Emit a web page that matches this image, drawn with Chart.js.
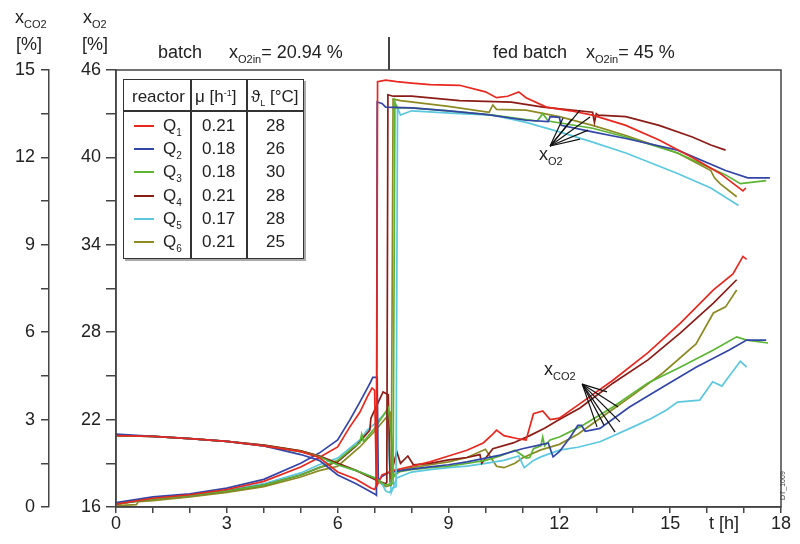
<!DOCTYPE html>
<html>
<head>
<meta charset="utf-8">
<script src="https://cdn.jsdelivr.net/npm/chart.js@4.4.1/dist/chart.umd.min.js"></script>
<style>
  body { margin: 0; background: #fff; }
  #wrap { position: relative; width: 800px; height: 544px; font-family: "Liberation Sans", Arial, sans-serif; color: #222; }
  #chart { position: absolute; left: 0; top: 0; }
  .lbl { position: absolute; font-size: 18px; line-height: 1; white-space: nowrap; }
  .lbl sub { font-size: 11px; vertical-align: -5px; line-height: 0; }
  #sep { position: absolute; left: 388px; top: 37px; width: 1.5px; height: 33px; background: #444; }
  #legend { position: absolute; left: 123px; top: 79px; width: 181px; height: 180px; border: 1.5px solid #333; box-sizing: border-box; box-shadow: 2px 2px 0 #aaa; background: #fff; }
  #legend .cell { position: absolute; font-size: 17px; line-height: 1; white-space: nowrap; }
  #legend .vl { position: absolute; top: 0; bottom: 0; width: 1.5px; background: #333; }
  #legend .hl { position: absolute; left: 0; right: 0; height: 1.5px; background: #333; top: 30px; }
  #legend .sw { position: absolute; height: 2px; width: 20px; }
  #dt { position: absolute; left: 779px; top: 500px; font-size: 7px; color: #444; transform: rotate(-90deg); transform-origin: left top; }
</style>
</head>
<body>
<div id="wrap">
  <canvas id="chart" width="800" height="544"></canvas>
  <div class="lbl" style="left:15px; top:8px;">x<sub>CO2</sub></div>
  <div class="lbl" style="left:16px; top:35px;">[%]</div>
  <div class="lbl" style="left:83px; top:8px;">x<sub>O2</sub></div>
  <div class="lbl" style="left:82px; top:35px;">[%]</div>
  <div class="lbl" style="left:158px; top:43px;">batch</div>
  <div class="lbl" style="left:229px; top:43px;">x<sub>O2in</sub>= 20.94 %</div>
  <div class="lbl" style="left:493px; top:43px;">fed batch</div>
  <div class="lbl" style="left:586px; top:43px;">x<sub>O2in</sub>= 45 %</div>
  <div id="sep"></div>
  <div class="lbl" style="left:709px; top:514px;">t [h]</div>
  <div class="lbl" style="left:539px; top:145px;">x<sub>O2</sub></div>
  <div class="lbl" style="left:544px; top:360px;">x<sub>CO2</sub></div>
  <div id="dt">DT_1009</div>
  <div id="legend"></div>
</div>
<script>
// reactor table
const reactors = ['1', '2', '3', '4', '5', '6'];
const muValues = ['0.21', '0.18', '0.18', '0.21', '0.17', '0.21'];
const tempValues = ['28', '26', '30', '28', '28', '25'];
const colors = ['#e8281e', '#3346a8', '#5ab532', '#8b1c16', '#5cc8e0', '#8c8a22'];

// x_O2 [%] over t [h]
const q1O2t = [0, 1, 2, 3, 4, 5, 5.5, 6, 6.5, 6.9, 7.0, 7.05, 7.08, 7.3, 7.6, 8.0, 8.5, 9.3, 10.0, 10.3, 10.6, 10.9, 11.1, 11.65, 12.3, 12.9, 13.8, 14.7, 15.6, 16.35, 16.97, 17.05];
const q1O2 = [20.9, 20.85, 20.7, 20.5, 20.2, 19.8, 19.4, 18.4, 17.9, 17.3, 17.2, 17.5, 45.2, 45.3, 45.2, 45.1, 45.0, 44.95, 44.5, 44.1, 44.2, 44.5, 44.1, 43.45, 43.2, 42.9, 42.2, 41.2, 40.0, 38.9, 37.7, 37.9];
const q2O2t = [0, 1, 2, 3, 4, 5, 5.5, 6, 6.5, 7.0, 7.05, 7.07, 7.2, 7.3, 8.0, 9.0, 10.0, 11.1, 11.7, 11.75, 12.0, 12.05, 12.9, 13.8, 15.2, 16.5, 17.1, 17.7];
const q2O2 = [21.0, 20.85, 20.7, 20.5, 20.2, 19.6, 19.2, 18.2, 17.6, 16.9, 16.8, 43.8, 43.7, 43.45, 43.4, 43.2, 42.95, 42.55, 42.45, 42.8, 42.75, 42.2, 41.75, 41.3, 40.5, 39.1, 38.6, 38.6];
const q3O2t = [0, 1, 2, 3, 4, 5, 5.5, 6, 6.5, 7.0, 7.3, 7.45, 7.5, 7.55, 7.6, 8.0, 9.0, 10.2, 11.4, 11.55, 11.7, 12.9, 13.8, 15.2, 16.5, 16.9, 17.6];
const q3O2 = [20.9, 20.85, 20.7, 20.5, 20.2, 19.8, 19.45, 18.9, 18.5, 18.0, 17.5, 17.6, 17.6, 43.8, 43.4, 43.4, 43.2, 42.9, 42.5, 43.0, 42.5, 42.0, 41.4, 40.3, 38.8, 38.2, 38.4];
const q4O2t = [0, 1, 2, 3, 4, 5, 5.5, 6, 6.5, 7.0, 7.3, 7.33, 7.36, 7.5, 8.0, 9.3, 10.7, 11.56, 12.9, 12.95, 13.0, 13.05, 13.8, 14.7, 15.6, 16.1, 16.5];
const q4O2 = [20.9, 20.85, 20.7, 20.5, 20.25, 19.85, 19.5, 19.0, 18.5, 17.9, 17.6, 17.7, 44.3, 44.2, 44.2, 43.9, 43.8, 43.45, 43.1, 42.4, 43.0, 42.9, 42.8, 42.2, 41.4, 40.85, 40.5];
const q5O2t = [0, 1, 2, 3, 4, 5, 5.5, 6, 6.5, 7.0, 7.2, 7.3, 7.4, 7.5, 7.58, 7.62, 7.7, 8.0, 9.3, 10.2, 11.1, 12.0, 12.9, 13.8, 15.2, 16.1, 16.85];
const q5O2 = [20.9, 20.85, 20.7, 20.5, 20.2, 19.8, 19.5, 18.9, 18.5, 18.0, 17.6, 17.1, 17.0, 17.3, 17.4, 43.4, 42.9, 43.2, 43.0, 42.9, 42.4, 41.75, 41.05, 40.3, 38.9, 37.9, 36.7];
const q6O2t = [0, 1, 2, 3, 4, 5, 5.5, 6, 6.5, 7.0, 7.3, 7.45, 7.5, 7.7, 9.0, 10.1, 10.2, 10.3, 11.1, 12.0, 12.9, 13.8, 15.2, 16.1, 16.2, 16.35, 16.8];
const q6O2 = [20.9, 20.85, 20.7, 20.5, 20.25, 19.85, 19.5, 19.0, 18.5, 17.9, 17.4, 17.5, 44.0, 43.9, 43.5, 43.1, 43.6, 43.3, 43.25, 42.8, 42.2, 41.5, 40.3, 39.1, 38.6, 38.2, 37.3];

// x_CO2 [%] over t [h]
const q1CO2t = [0, 1, 2, 3, 4, 5, 5.5, 6, 6.33, 6.6, 6.8, 6.93, 7.0, 7.05, 7.2, 7.5, 8.0, 8.5, 9.0, 9.5, 9.94, 10.2, 10.3, 10.5, 10.85, 11.1, 11.3, 11.55, 11.75, 12.0, 12.56, 13.45, 14.4, 15.27, 16.17, 16.7, 16.97, 17.07];
const q1CO2 = [0.1, 0.3, 0.42, 0.6, 0.88, 1.37, 1.7, 2.06, 2.75, 3.25, 3.78, 4.08, 4.0, 0.7, 1.1, 1.25, 1.4, 1.55, 1.75, 1.95, 2.2, 2.5, 2.64, 2.45, 2.35, 2.3, 3.2, 3.3, 3.0, 3.05, 3.55, 4.35, 5.3, 6.3, 7.45, 8.0, 8.6, 8.5];
const q2CO2t = [0, 1, 2, 3, 4, 5, 5.5, 6, 6.33, 6.6, 6.88, 6.95, 7.07, 7.1, 7.2, 7.4, 8.0, 8.5, 9.0, 9.5, 10.0, 10.4, 11.0, 11.48, 11.7, 11.83, 12.0, 12.3, 12.5, 12.6, 12.7, 13.1, 13.9, 14.8, 15.7, 16.6, 17.07, 17.6];
const q2CO2 = [0.15, 0.35, 0.45, 0.65, 0.95, 1.5, 1.85, 2.3, 2.99, 3.6, 4.26, 4.45, 4.45, 0.9, 1.05, 1.2, 1.3, 1.38, 1.45, 1.55, 1.68, 1.78, 2.0, 2.13, 2.2, 1.72, 1.9, 2.4, 2.8, 2.8, 2.6, 2.7, 3.43, 4.12, 4.8, 5.39, 5.73, 5.73];
const q3CO2t = [0, 1, 2, 3, 4, 5, 5.5, 6, 6.43, 6.6, 6.65, 6.7, 7.0, 7.37, 7.45, 7.5, 7.6, 8.0, 8.5, 9.0, 9.5, 10.0, 10.4, 10.8, 11.1, 11.2, 11.3, 11.5, 11.55, 11.6, 11.75, 12.0, 12.56, 13.45, 14.4, 15.27, 16.17, 16.8, 17.07, 17.65];
const q3CO2 = [0.1, 0.28, 0.4, 0.55, 0.75, 1.1, 1.35, 1.6, 2.06, 2.2, 2.5, 2.25, 2.7, 3.4, 2.5, 1.0, 1.2, 1.28, 1.35, 1.4, 1.5, 1.6, 1.75, 1.95, 1.68, 1.7, 2.0, 2.1, 2.4, 2.1, 2.3, 2.4, 2.75, 3.43, 4.26, 4.8, 5.39, 5.84, 5.73, 5.63];
const q4CO2t = [0, 1, 2, 3, 4, 5, 5.5, 6, 6.5, 6.87, 6.9, 7.1, 7.23, 7.37, 7.42, 7.6, 7.7, 7.9, 8.05, 8.5, 9.0, 9.5, 9.85, 9.9, 10.2, 10.75, 11.2, 11.6, 12.0, 12.56, 13.45, 14.4, 15.27, 16.17, 16.8];
const q4CO2 = [0.1, 0.28, 0.4, 0.55, 0.75, 1.1, 1.35, 1.55, 2.1, 2.64, 3.05, 3.6, 3.95, 3.85, 1.0, 1.9, 1.5, 1.75, 1.45, 1.5, 1.62, 1.7, 1.8, 1.5, 2.0, 2.2, 2.45, 2.7, 3.0, 3.4, 4.25, 5.05, 5.97, 7.0, 7.8];
const q5CO2t = [0, 1, 2, 3, 4, 5, 5.5, 6, 6.6, 6.8, 7.0, 7.2, 7.33, 7.4, 7.45, 7.6, 8.0, 8.5, 9.0, 9.5, 10.0, 10.5, 10.9, 11.05, 11.3, 11.5, 12.0, 12.5, 13.1, 14.0, 14.5, 14.9, 15.2, 15.8, 16.15, 16.4, 16.6, 16.9, 17.07];
const q5CO2 = [0.1, 0.3, 0.4, 0.58, 0.8, 1.17, 1.45, 1.68, 2.3, 2.64, 2.85, 3.1, 3.26, 1.5, 0.5, 1.0, 1.2, 1.28, 1.35, 1.4, 1.5, 1.6, 1.75, 1.35, 1.6, 1.72, 1.95, 2.05, 2.24, 2.75, 3.05, 3.33, 3.6, 3.67, 4.3, 4.15, 4.5, 5.0, 4.8];
const q6CO2t = [0, 0.55, 0.6, 1, 2, 3, 4, 5, 5.5, 6, 6.6, 7.0, 7.42, 7.52, 7.7, 8.0, 8.5, 9.0, 9.5, 10.0, 10.3, 10.5, 10.8, 11.0, 11.5, 12.0, 12.5, 13.0, 13.5, 14.0, 14.8, 15.7, 16.17, 16.5, 16.8];
const q6CO2 = [0.05, 0.08, 0.18, 0.22, 0.35, 0.5, 0.7, 1.03, 1.25, 1.4, 2.06, 2.6, 3.23, 1.05, 1.25, 1.35, 1.45, 1.55, 1.7, 1.98, 1.4, 1.35, 1.5, 1.68, 1.96, 2.15, 2.5, 2.95, 3.4, 3.85, 4.6, 5.6, 6.66, 6.87, 7.45];

// pointer fans of the curve labels (t, value)
const o2FanFrom = [11.75, 40.78];
const o2FanToT = [12.1, 12.56, 12.83, 12.78, 12.56, 12.34];
const o2FanTo = [42.7, 43.25, 42.77, 41.87, 41.26, 42.63];
const co2FanFrom = [12.62, 4.22];
const co2FanToT = [13.02, 13.21, 13.51, 13.64, 13.59, 13.29];
const co2FanTo = [2.75, 2.81, 2.57, 2.92, 3.43, 3.95];

const o2Series = [[q1O2t, q1O2], [q2O2t, q2O2], [q3O2t, q3O2], [q4O2t, q4O2], [q5O2t, q5O2], [q6O2t, q6O2]];
const co2Series = [[q1CO2t, q1CO2], [q2CO2t, q2CO2], [q3CO2t, q3CO2], [q4CO2t, q4CO2], [q5CO2t, q5CO2], [q6CO2t, q6CO2]];

function toPoints(ts, vs) {
  return ts.map((t, i) => ({ x: t, y: vs[i] }));
}

function buildLegend() {
  const box = document.getElementById('legend');
  let html = '<div class="vl" style="left:66px"></div><div class="vl" style="left:122px"></div><div class="hl"></div>';
  html += '<div class="cell" style="left:8px; top:8px;">reactor</div>';
  html += '<div class="cell" style="left:71px; top:8px;">\u03bc [h<sup style="font-size:9px;vertical-align:6px;line-height:0">-1</sup>]</div>';
  html += '<div class="cell" style="left:127px; top:8px;">\u03d1<sub style="font-size:9px;vertical-align:-4px;line-height:0">L</sub> [\u00b0C]</div>';
  reactors.forEach((r, i) => {
    const top = 37 + i * 23.2;
    html += `<div class="sw" style="left:10px; top:${top + 8}px; background:${colors[i]}"></div>`;
    html += `<div class="cell" style="left:39px; top:${top}px;">Q<sub style="font-size:10px;vertical-align:-5px;line-height:0">${r}</sub></div>`;
    html += `<div class="cell" style="left:78px; top:${top}px;">${muValues[i]}</div>`;
    html += `<div class="cell" style="left:142px; top:${top}px;">${tempValues[i]}</div>`;
  });
  box.innerHTML = html;
}

// frame round the plot + pointer lines
const framePlugin = {
  id: 'frame',
  afterDraw(chart) {
    const { ctx, chartArea: a, scales } = chart;
    ctx.save();
    ctx.strokeStyle = '#444';
    ctx.lineWidth = 1.5;
    ctx.strokeRect(a.left, a.top, a.right - a.left, a.bottom - a.top);

    ctx.strokeStyle = '#111';
    ctx.lineWidth = 1.2;
    const fan = (from, toT, toV, yScale) => {
      const x0 = scales.x.getPixelForValue(from[0]);
      const y0 = yScale.getPixelForValue(from[1]);
      toT.forEach((t, i) => {
        ctx.beginPath();
        ctx.moveTo(x0, y0);
        ctx.lineTo(scales.x.getPixelForValue(t), yScale.getPixelForValue(toV[i]));
        ctx.stroke();
      });
    };
    fan(o2FanFrom, o2FanToT, o2FanTo, scales.yO2);
    fan(co2FanFrom, co2FanToT, co2FanTo, scales.yCO2);
    ctx.restore();
  }
};

const datasets = [];
o2Series.forEach((s, i) => {
  datasets.push({ data: toPoints(s[0], s[1]), yAxisID: 'yO2', borderColor: colors[i] });
});
co2Series.forEach((s, i) => {
  datasets.push({ data: toPoints(s[0], s[1]), yAxisID: 'yCO2', borderColor: colors[i] });
});

const tickFont = { family: '"Liberation Sans", Arial, sans-serif', size: 18 };
const near = (v, step) => Math.abs(v / step - Math.round(v / step)) < 1e-6;

buildLegend();

new Chart(document.getElementById('chart'), {
  type: 'line',
  data: { datasets: datasets },
  options: {
    responsive: false,
    animation: false,
    devicePixelRatio: 1,
    layout: { padding: { left: 0, top: 70, right: 19, bottom: 0 } },
    elements: {
      point: { radius: 0 },
      line: { borderWidth: 1.7, tension: 0 }
    },
    plugins: { legend: { display: false }, tooltip: { enabled: false } },
    scales: {
      x: {
        type: 'linear',
        min: 0,
        max: 18,
        ticks: {
          stepSize: 1,
          font: tickFont,
          color: '#222',
          padding: 0,
          maxRotation: 0,
          autoSkip: false,
          callback: v => (near(v, 3) ? String(v) : '')
        },
        grid: { drawOnChartArea: false, tickLength: 6, color: '#444', lineWidth: 1.5 },
        border: { color: '#444', width: 1.5 },
        afterFit: s => { s.height = 37; }
      },
      yCO2: {
        position: 'left',
        weight: 2,
        min: 0,
        max: 15,
        ticks: {
          stepSize: 1.5,
          font: tickFont,
          color: '#222',
          padding: 6,
          autoSkip: false,
          callback: v => (near(v, 3) ? String(Math.round(v)) : '')
        },
        grid: { drawOnChartArea: false, tickLength: 8, color: '#444', lineWidth: 1.5 },
        border: { color: '#444', width: 1.5 },
        afterFit: s => { s.width = 49; }
      },
      yO2: {
        position: 'left',
        weight: 1,
        min: 16,
        max: 46,
        ticks: {
          stepSize: 3,
          font: tickFont,
          color: '#222',
          padding: 5,
          autoSkip: false,
          callback: v => (near(v - 16, 6) ? String(Math.round(v)) : '')
        },
        grid: { drawOnChartArea: false, tickLength: 10, color: '#444', lineWidth: 1.5 },
        border: { color: '#444', width: 1.5 },
        afterFit: s => { s.width = 67; }
      }
    }
  },
  plugins: [framePlugin]
});
</script>
</body>
</html>
